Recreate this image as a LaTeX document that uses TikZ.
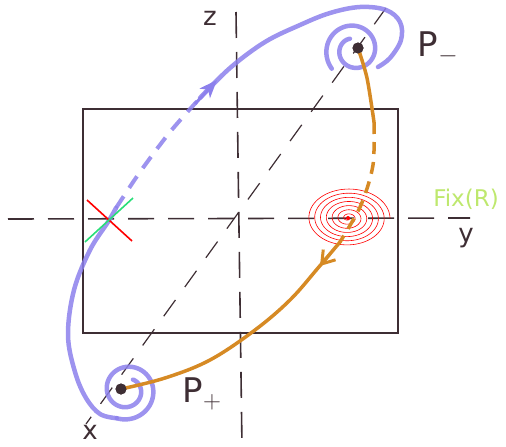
\documentclass[tikz,border=0pt]{standalone}
\usetikzlibrary{arrows.meta}
\usepackage{fontspec}
\setmainfont{DejaVu Sans}
\definecolor{ink}{RGB}{62,46,52}
\definecolor{violet}{RGB}{140,128,236}
\definecolor{amber}{RGB}{214,138,36}
\definecolor{fixgreen}{RGB}{190,232,110}
\definecolor{crossgreen}{RGB}{40,222,120}
\tikzset{
  axis/.style={ink, line width=1.6pt, dash pattern=on 26pt off 14pt},
  diag/.style={ink, line width=1.2pt, dash pattern=on 20pt off 16pt},
  frame/.style={ink, line width=1.4pt},
  flowA/.style={violet, line width=4.5pt, line cap=round, opacity=0.85},
  flowB/.style={amber, line width=3.5pt, line cap=round},
  lbl/.style={ink, font=\fontsize{26}{26}\selectfont},
  plbl/.style={ink, font=\fontsize{34}{34}\selectfont},
  pt/.style={circle, fill=ink, inner sep=0pt, minimum size=11pt}
}
\begin{document}
\begin{tikzpicture}[x=1pt,y=-1pt]
\useasboundingbox (0,0) rectangle (506,447);
% frame
\draw[frame] (83,109) rectangle (398,333);
% axes
\coordinate (hl) at (8,219); \coordinate (hr) at (470,218);
\coordinate (vt) at (236,12); \coordinate (vb) at (242,447);
\coordinate (dt) at (386,8); \coordinate (db) at (86,424);
\draw[axis] (hl) -- (hr);
\draw[axis] (vt) -- (vb);
\draw[diag] (dt) -- (db);
% labels
\node[lbl] (zl) at (210,18) {z};
\node[lbl] (yl) at (466,238) {y};
\node[lbl] (xl) at (90,432) {x};
\node[plbl] (pml) at (438,48) {P$_{-}$};
\node[plbl] (ppl) at (202,394) {P$_{+}$};
\node[fixgreen, font=\fontsize{23}{23}\selectfont] (fix) at (466,199) {Fix(R)};
% red spiral (focus)
\draw[red, line width=0.6pt] plot[domain=0:2520, samples=600, smooth]
  ({348+42*(1-\x/2600)*cos(\x)},{218-30*(1-\x/2600)*sin(\x)});
\node[circle, fill=red, inner sep=0pt, minimum size=4pt] (focus) at (348,218) {};
% blue flow: spirals
\draw[flowA] plot[domain=140:610, samples=200, smooth]
  ({354+(29-(\x-140)/470*17)*cos(\x)},{50+(29-(\x-140)/470*17)*sin(\x)});
\draw[flowA] plot[domain=-420:110, samples=200, smooth]
  ({127+(12+(\x+420)/530*18)*cos(\x)},{390+(12+(\x+420)/530*18)*sin(\x)});
\coordinate (bs) at ({127+30*cos(110)},{390+30*sin(110)});
% blue flow: main orbit
\draw[flowA] plot[smooth, tension=0.6] coordinates {(bs) (100,414) (86,398) (75,372) (68,335) (74,290) (90,250) (108,222) (116,208)};
\draw[flowA, line width=4pt, dash pattern=on 14pt off 10pt, line cap=butt] plot[smooth] coordinates {(116,208) (140,172) (170,132) (200,98)};
\draw[flowA] plot[smooth, tension=0.6] coordinates {(200,98) (230,68) (265,42) (300,25) (330,13) (360,7) (386,10) (400,22) (401,40) (390,58) (378,67)};
\draw[violet, line width=3pt, -{Stealth[length=18pt,width=14pt,inset=5pt]}] (195,104) -- (217,80);
% orange flow
\node[pt] (Pm) at (358,48) {};
\node[pt] (Pp) at (121,389) {};
\draw[flowB] plot[smooth] coordinates {(Pm) (367,78) (374,122)};
\draw[flowB, dash pattern=on 12pt off 8pt, line cap=butt] plot[smooth] coordinates {(374,122) (373,165) (361,205) (340,242)};
\draw[flowB] plot[smooth, tension=0.6] coordinates {(340,242) (318,268) (290,300) (255,330) (210,360) (165,378) (Pp)};
\draw[amber, line width=3pt, -{Straight Barb[length=12pt,width=16pt]}] (330,254) -- (320,266);
% cross at the fixed line
\coordinate (ra) at (87,200); \coordinate (rb) at (132,241);
\coordinate (ga) at (85,242); \coordinate (gb) at (133,198);
\draw[red, line width=1.6pt] (ra) -- (rb);
\draw[crossgreen, line width=1.6pt] (ga) -- (gb);
\node[pt] at (358,48) {};
\node[pt] at (121,389) {};
\end{tikzpicture}
\end{document}
